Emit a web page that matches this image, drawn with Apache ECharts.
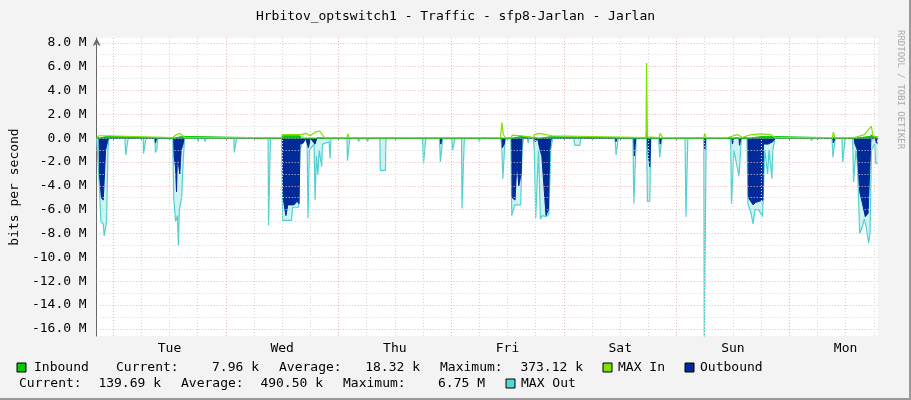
<!DOCTYPE html>
<html><head><meta charset="utf-8">
<script src="https://cdn.jsdelivr.net/npm/echarts@6/dist/echarts.min.js"></script>
<style>html,body{margin:0;padding:0;background:#f3f3f3}#c{width:911px;height:400px}</style>
</head><body><div id="c"></div>
<script>
// hours since Monday 00:00 ; values in M bits/s
const dayLabels = ['Tue','Wed','Thu','Fri','Sat','Sun','Mon'];
const dayNoon = [36,60,84,108,132,156,180];
const yTicks = [8,6,4,2,0,-2,-4,-6,-8,-10,-12,-14,-16];
const hGrid = [8,7,6,5,4,3,2,1,0,-1,-2,-3,-4,-5,-6,-7,-8,-9,-10,-11,-12,-13,-14,-15,-16];
const vGrid = [24,30,36,42,48,54,60,66,72,78,84,90,96,102,108,114,120,126,132,138,144,150,156,162,168,174,180,186];

const maxOut = [[20.5,0],[20.9,0],[21.0,-3.5],[21.4,-7.0],[21.9,-7.2],[22.1,-8.2],[22.4,-7.5],[22.6,-7.0],[22.9,-1.0],[23.1,0],
[26.5,0],[26.7,-1.4],[27.0,-1.4],[27.2,0],[30.4,0],[30.5,-1.3],[30.8,-1.3],[31.0,0],[32.9,0],[33.0,-1.2],[33.3,-1.0],[33.5,0],
[36.7,0],[36.9,-5.0],[37.3,-7.0],[37.7,-6.5],[37.9,-9.0],[38.1,-6.0],[38.6,-5.0],[38.8,-3.0],[39.2,0],
[41.9,0],[42.1,-0.3],[42.3,0],[43.4,0],[43.6,-0.3],[43.8,0],[49.7,0],[49.8,-1.2],[50.1,-1.2],[50.3,0],
[57.0,0],[57.1,-7.3],[57.3,-7.3],[57.5,0],
[59.9,0],[60.1,-6.9],[62.0,-6.9],[62.2,-5.8],[63.5,-5.8],[63.8,-1.0],[64.2,-0.5],[65.3,0],
[65.5,-6.7],[65.8,-1.0],[66.8,-0.5],[67.0,-5.2],[67.3,-1.5],[67.6,-3.1],[67.9,-1.0],[68.4,-2.4],[68.6,-0.5],[70.0,-0.3],[70.2,-1.7],[70.4,0],
[73.8,0],[73.9,-1.9],[74.2,-1.9],[74.4,0],[76.1,0],[76.3,-0.3],[76.5,0],[78.0,0],[78.2,-0.3],[78.4,0],
[80.8,0],[80.9,-2.7],[82.0,-2.7],[82.1,0],[89.9,0],[90.1,-2.1],[90.4,-2.1],[90.6,0],
[93.5,0],[93.7,-2.0],[94.0,-2.0],[94.2,0],[96.1,0],[96.3,-1.0],[96.6,-1.0],[96.8,0],
[98.2,0],[98.3,-5.9],[98.6,-5.9],[98.8,0],[101.8,0],[102.0,-0.3],[102.2,0],
[106.6,0],[106.8,-1.0],[107.0,-3.4],[107.3,-3.4],[107.5,0],
[108.7,0],[108.9,-6.5],[109.3,-6.5],[109.5,-5.6],[110.8,-5.6],[111.1,-1.0],[111.4,0],
[112.2,0],[112.4,-0.4],[112.6,0],
[113.5,0],[113.7,-1.0],[114.0,-6.7],[114.4,-6.7],[114.6,-1.0],[115.0,-6.8],[115.4,-6.5],[116.2,-6.6],[116.8,-6.4],[117.2,-1.0],[117.6,0],
[122.1,0],[122.3,-0.6],[123.4,-0.6],[123.6,0],[130.9,0],[131.1,-1.4],[131.4,-1.4],[131.6,0],
[134.7,0],[134.9,-5.5],[135.2,-5.5],[135.4,0],[137.6,0],[137.8,-5.3],[138.3,-5.3],[138.5,0],
[140.2,0],[140.4,-1.6],[140.7,-1.6],[140.9,0],[145.8,0],[146.0,-6.6],[146.2,-6.6],[146.4,0],
[149.8,0],[149.9,-17],[150.2,-17],[150.3,0],
[155.5,0],[155.7,-5.5],[156.0,-5.5],[156.2,-1.0],[157.3,-3.2],[157.6,-3.2],[157.8,0],
[159.0,0],[159.2,-5.5],[159.8,-6.2],[160.3,-7.2],[160.7,-6.0],[161.5,-6.0],[162.3,-6.6],[162.6,-6.6],[162.8,-1.0],[163.4,-3.0],[163.7,-1.0],[164.3,-3.4],[164.5,-1.0],[165.0,0],
[172.5,0],[172.7,-0.2],[173.0,0],[177.1,0],[177.3,-1.6],[177.6,-1.6],[177.8,0],[179.2,0],[179.4,-2.0],[179.7,-2.0],[179.9,0],
[181.5,0],[181.7,-3.7],[182.0,-3.7],[182.2,-1.0],[182.5,-2.0],[183.0,-8.0],[183.5,-7.5],[184.0,-6.8],[184.4,-7.5],[184.9,-8.8],[185.2,-8.0],[185.5,-1.0],[186.2,-0.5],[186.4,-2.1],[186.9,-2.1]];

const outbound = [[20.5,0],[21.0,0],[21.1,-3.0],[21.5,-5.0],[21.9,-5.2],[22.3,-5.2],[22.4,-1.0],[22.8,-0.3],[23.0,0],
[32.9,0],[33.0,-0.4],[33.3,0],
[36.9,0],[37.0,-1.5],[37.3,-2.5],[37.5,-4.5],[37.7,-1.5],[38.2,-3.0],[38.5,-1.0],[38.9,-0.5],[39.1,0],
[60.1,0],[60.2,-5.0],[60.8,-6.5],[61.2,-5.6],[62.5,-5.6],[63.2,-5.3],[63.6,-5.5],[63.8,-0.5],[64.5,-0.4],[65.0,0],
[65.4,0],[65.6,-0.8],[66.0,0],[67.0,-0.5],[67.4,0],
[93.7,0],[93.8,-0.5],[94.0,0],
[106.8,0],[106.9,-0.8],[107.3,-0.5],[107.5,0],
[108.9,0],[109.0,-5.0],[109.6,-5.2],[110.0,-2.0],[110.4,-4.0],[110.9,-3.0],[111.1,0],
[113.8,0],[113.9,-0.3],[114.4,0],
[114.7,0],[114.8,-0.8],[115.3,-1.5],[116.2,-6.5],[116.7,-6.0],[117.0,-1.0],[117.3,0],
[131.0,0],[131.1,-0.3],[131.3,0],
[134.9,0],[135.0,-1.5],[135.3,0],
[137.8,0],[138.0,-1.5],[138.3,-2.4],[138.5,0],
[140.4,0],[140.5,-0.5],[140.8,0],
[149.9,0],[150.0,-1.0],[150.2,0],
[155.8,0],[155.9,-0.5],[156.2,0],[157.3,0],[157.4,-0.6],[157.7,0],
[159.2,0],[159.3,-5.0],[160.3,-5.6],[160.8,-5.4],[162.4,-5.2],[162.5,-0.5],[163.5,-0.5],[164.5,-0.3],[165.0,0],
[177.3,0],[177.4,-0.4],[177.7,0],
[181.8,0],[182.0,-0.5],[182.5,-1.0],[183.0,-4.5],[183.6,-5.5],[184.2,-6.6],[184.8,-6.3],[185.1,-3.0],[185.4,0],[186.4,0],[186.5,-0.4],[186.9,-0.4]];

const maxIn = [[20.5,0.05],[20.9,0.05],[21.0,0.2],[22.8,0.2],[23.0,0.05],[36.7,0.05],[36.8,0.2],[37.5,0.3],[38.3,0.4],[39.2,0.05],
[59.9,0.05],[60.0,0.3],[64.0,0.3],[65.0,0.4],[66.0,0.2],[67.0,0.5],[68.0,0.6],[69.0,0.05],[73.8,0.05],[74.0,0.35],[74.3,0.05],
[106.5,0.05],[106.6,0.2],[106.8,1.3],[107.1,0.3],[107.5,0.05],[108.8,0.05],[109.0,0.25],[111.0,0.2],[111.3,0.05],[113.6,0.05],[113.7,0.3],[114.7,0.4],[117.5,0.2],[117.8,0.05],
[137.5,0.05],[137.6,6.3],[137.8,0.1],[140.3,0.05],[140.5,0.4],[141.0,0.05],[149.8,0.05],[150.0,0.4],[150.3,0.05],
[154.9,0.05],[155.0,0.2],[157.0,0.3],[158.0,0.05],[159.0,0.2],[160.0,0.3],[162.0,0.35],[164.0,0.3],[165.0,0.05],
[177.2,0.05],[177.4,0.5],[177.7,0.05],[181.9,0.05],[182.0,0.2],[184.0,0.3],[185.5,1.0],[185.8,0.2],[186.9,0.1]];

const inbound = [[20.5,0],[21.0,0],[21.1,0.15],[22.7,0.15],[22.9,0],[36.9,0],[37.0,0.12],[38.8,0.15],[39.0,0],
[60.0,0],[60.1,0.2],[63.8,0.2],[64.0,0],[108.9,0],[109.0,0.15],[111.0,0.15],[111.2,0],[114.7,0],[114.8,0.15],[117.2,0.12],[117.4,0],
[137.5,0],[137.6,0.6],[137.8,0],[159.1,0],[159.2,0.15],[162.6,0.15],[162.8,0],[182.0,0],[182.2,0.15],[185.4,0.15],[185.6,0],[186.9,0]];

const chart = echarts.init(document.getElementById('c'));
const mono = 'DejaVu Sans Mono';
const F = '13px "DejaVu Sans Mono"';
const lg = (x,y,t)=>({type:'text',left:x,top:y,style:{text:t,font:F,fill:'#000'}});
const lr = (r,y,t)=>({type:'text',right:911-r,top:y,style:{text:t,font:F,fill:'#000'}});
const sq = (x,y,c)=>({type:'rect',shape:{x:x,y:y,width:9,height:9},style:{fill:c,stroke:'#000',lineWidth:1}});
chart.setOption({
  animation:false,
  backgroundColor:'#f3f3f3',
  textStyle:{fontFamily:mono},
  title:{text:'Hrbitov_optswitch1 - Traffic - sfp8-Jarlan - Jarlan',left:'center',top:5,textStyle:{fontFamily:mono,fontSize:13,fontWeight:'normal',color:'#000'}},
  grid:{left:85,right:33,top:38,bottom:64,show:true,backgroundColor:'#fff',borderWidth:0},
  xAxis:{type:'value',min:20.5,max:186.9,
    axisLine:{lineStyle:{color:'#666'},symbol:['none','arrow'],symbolSize:[6,8]},
    axisTick:{customValues:vGrid,length:3,lineStyle:{color:'#888'}},
    splitLine:{show:false},
    axisLabel:{customValues:dayNoon,formatter:v=>dayLabels[dayNoon.indexOf(v)],color:'#000',fontFamily:mono,fontSize:13,margin:6}},
  yAxis:{type:'value',min:-16.6,max:8.4,name:'bits per second',nameLocation:'middle',nameGap:72,
    nameTextStyle:{fontFamily:mono,fontSize:13,color:'#000'},
    axisLine:{show:true,lineStyle:{color:'#666'},symbol:['none','arrow'],symbolSize:[6,8]},
    axisTick:{show:false},splitLine:{show:false},
    axisLabel:{customValues:yTicks,formatter:v=>v.toFixed(1)+' M',color:'#000',fontFamily:mono,fontSize:13,margin:10}},
  series:[
    {type:'line',data:[],z:1,silent:true,markLine:{silent:true,symbol:'none',animation:false,label:{show:false},
      data:[...hGrid.map(v=>({yAxis:v,lineStyle:{color:v%2===0?'#eeb4b4':'#d6d6d6',type:[1,2],width:1}})),
            ...vGrid.map(v=>({xAxis:v,lineStyle:{color:v%24===0?'#eeb4b4':'#d6d6d6',type:[1,2],width:1}}))]}},
    {name:'MAX Out',type:'line',data:maxOut,z:3,showSymbol:false,lineStyle:{color:'#4ed2d0',width:1.2},areaStyle:{color:'#c4f0ef',opacity:0.8},sampling:'none'},
    {name:'Outbound',type:'line',data:outbound,z:4,showSymbol:false,lineStyle:{color:'#002a97',width:1},areaStyle:{color:'#002a97',opacity:1}},
    {name:'Inbound',type:'line',data:inbound,z:5,showSymbol:false,lineStyle:{color:'#00cc00',width:1},areaStyle:{color:'#00cc00',opacity:1}},
    {name:'MAX In',type:'line',data:maxIn,z:6,showSymbol:false,lineStyle:{color:'#80e000',width:1.2}}
  ],
  graphic:[
    {type:'text',left:896,top:30,rotation:-Math.PI/2,style:{text:'RRDTOOL / TOBI OETIKER',font:'9px "DejaVu Sans Mono"',fill:'#aaa'}},
    {type:'rect',shape:{x:909,y:0,width:2,height:400},style:{fill:'#999'}},
    {type:'rect',shape:{x:0,y:398,width:911,height:2},style:{fill:'#999'}},
    sq(17,363,'#00cc00'),lg(34,361,'Inbound'),lg(116,361,'Current:'),lr(259,361,'7.96 k'),
    lg(279,361,'Average:'),lr(420,361,'18.32 k'),
    lg(440,361,'Maximum:'),lr(583,361,'373.12 k'),
    sq(603,363,'#80e000'),lg(618,361,'MAX In'),sq(685,363,'#002a97'),lg(700,361,'Outbound'),
    lg(19,377,'Current:'),lr(161,377,'139.69 k'),
    lg(181,377,'Average:'),lr(323,377,'490.50 k'),
    lg(343,377,'Maximum:'),lr(485,377,'6.75 M'),
    sq(506,379,'#55d6d3'),lg(521,377,'MAX Out')
  ]
});
</script></body></html>
